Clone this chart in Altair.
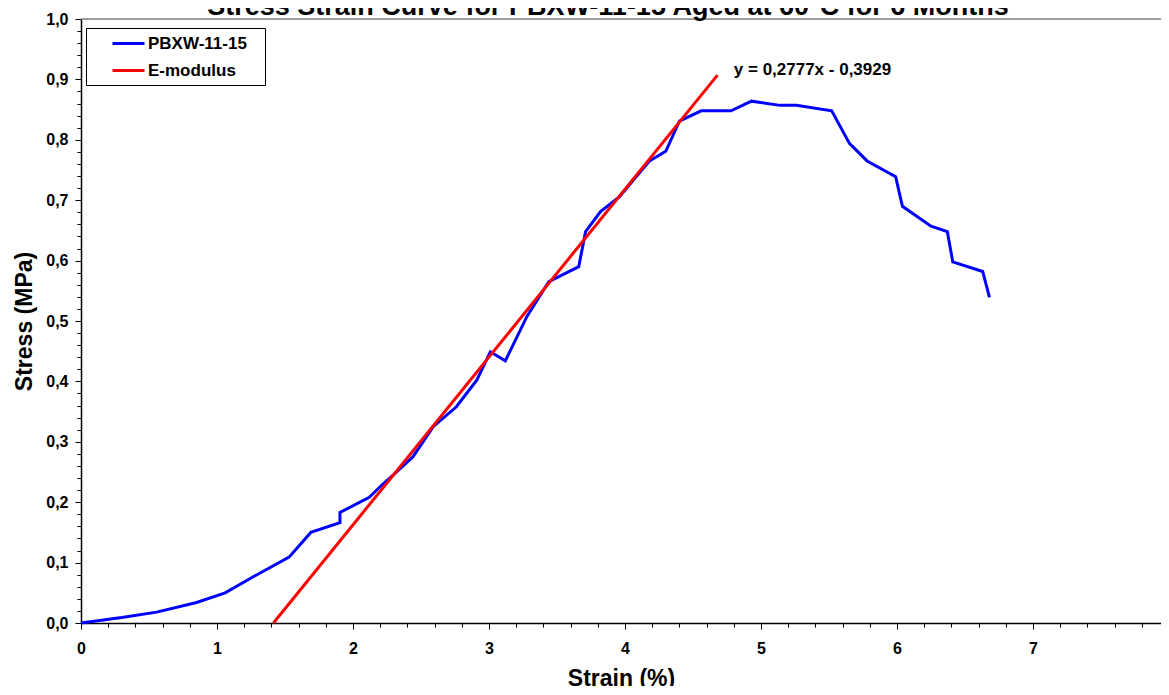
import altair as alt
import pandas as pd

# ---- data ----
strain = [0.0, 0.30, 0.556, 0.85, 1.06, 1.27, 1.53, 1.69, 1.904, 1.904, 2.12, 2.21, 2.32, 2.44,
          2.59, 2.76, 2.91, 3.01, 3.12, 3.28, 3.44, 3.66, 3.71, 3.82, 3.96, 4.06, 4.18, 4.30,
          4.40, 4.56, 4.78, 4.93, 5.14, 5.26, 5.52, 5.65, 5.78, 5.99, 6.04, 6.25, 6.37, 6.41,
          6.63, 6.68]
stress = [0.0, 0.009, 0.018, 0.034, 0.050, 0.077, 0.109, 0.150, 0.166, 0.183, 0.208, 0.228, 0.250, 0.275,
          0.325, 0.358, 0.402, 0.449, 0.434, 0.508, 0.565, 0.590, 0.648, 0.681, 0.706, 0.733, 0.765, 0.781,
          0.831, 0.848, 0.848, 0.864, 0.857, 0.857, 0.848, 0.794, 0.765, 0.739, 0.690, 0.657, 0.648, 0.598,
          0.582, 0.539]
fit_x = [1.415, 4.68]
fit_y = [0.0, 0.907]
series_names = ["PBXW-11-15", "E-modulus"]
series_colors = ["#0000FF", "#FF0000"]
equation_label = ["y = 0,2777x - 0,3929"]
equation_x = [4.80]
equation_y = [0.915]
frame_x = [0.0, 8.0]
frame_y = [1.0, 1.0]
x_ticks = [round(i * 0.2, 1) for i in range(41)]
y_ticks = [round(i * 0.02, 2) for i in range(51)]
title_text = ["Stress Strain Curve for PBXW-11-15 Aged at 60°C for 6 Months"]

FONT = "Liberation Sans"
PLOT_W, PLOT_H = 1080, 604
# the reference's x axis runs 0..8 over 1088 px; the window shows up to ~7.94
X_VISIBLE_MAX = 8 * PLOT_W / 1088

curve_df = pd.DataFrame({"strain": strain, "stress": stress,
                         "order": list(range(len(strain))), "series": series_names[0]})
fit_df = pd.DataFrame({"strain": fit_x, "stress": fit_y,
                       "order": list(range(len(fit_x))), "series": series_names[1]})
eq_df = pd.DataFrame({"strain": equation_x, "stress": equation_y, "label": equation_label})
frame_df = pd.DataFrame({"strain": frame_x, "stress": frame_y})
title_df = pd.DataFrame({"label": title_text})

x_scale = alt.Scale(domain=[0, X_VISIBLE_MAX], nice=False, zero=False)
y_scale = alt.Scale(domain=[0, 1], nice=False, zero=False)

x_major = "abs(datum.value - round(datum.value)) < 0.001"
y_major = "abs(datum.value * 10 - round(datum.value * 10)) < 0.001"

x_axis = alt.Axis(
    values=x_ticks,
    labelExpr=x_major + " ? format(datum.value, 'd') : ''",
    tickSize={"condition": {"test": x_major, "value": 6}, "value": 4},
    grid=False, domainColor="black", domainWidth=1.5, tickColor="black", tickWidth=1,
    labelFont=FONT, labelFontWeight="bold", labelFontSize=16, labelColor="black",
    labelPadding=11, labelFlush=False, labelOverlap=False,
    titleFont=FONT, titleFontWeight="bold", titleFontSize=23,
    titleColor="black", titleBaseline="alphabetic", titleY=62,
)
y_axis = alt.Axis(
    values=y_ticks,
    labelExpr=y_major + " ? replace(format(datum.value, '.1f'), '.', ',') : ''",
    tickSize={"condition": {"test": y_major, "value": 6}, "value": 4},
    grid=False, domainColor="black", domainWidth=1.5, tickColor="black", tickWidth=1,
    labelFont=FONT, labelFontWeight="bold", labelFontSize=16, labelColor="black",
    labelPadding=7, labelFlush=False, labelOverlap=False,
    titleFont=FONT, titleFontWeight="bold", titleFontSize=23,
    titleColor="black", titleBaseline="middle", titleX=-57, titleAngle=-90,
)

X = alt.X("strain:Q", scale=x_scale, axis=x_axis, title="Strain (%)")
Y = alt.Y("stress:Q", scale=y_scale, axis=y_axis, title="Stress (MPa)")

color_enc = alt.Color(
    "series:N",
    scale=alt.Scale(domain=series_names, range=series_colors),
    legend=alt.Legend(
        title=None, orient="none", legendX=5, legendY=9,
        fillColor="white", strokeColor="black", padding=6, rowPadding=9,
        symbolType="M-2,0H2", symbolStrokeWidth=3, symbolSize=256, symbolOffset=27,
        labelOffset=10, labelFont=FONT, labelFontWeight="bold", labelFontSize=17, labelColor="black",
        labelExpr="datum.label + '\u2800'",
    ),
)

frame = alt.Chart(frame_df).mark_line(color="#808080", strokeWidth=1.5).encode(x=X, y=Y)

curve = alt.Chart(curve_df).mark_line(strokeWidth=3).encode(
    x=X, y=Y, order="order:Q", color=color_enc,
)
fit = alt.Chart(fit_df).mark_line(strokeWidth=3).encode(
    x=X, y=Y, order="order:Q", color=color_enc,
)
eq = alt.Chart(eq_df).mark_text(
    align="left", baseline="middle", font=FONT, fontWeight="bold", fontSize=17, color="black"
).encode(x=X, y=Y, text="label:N")

title = alt.Chart(title_df).mark_text(
    align="center", baseline="alphabetic", font=FONT, fontWeight="bold", fontSize=27, color="black"
).encode(x=alt.value(PLOT_W / 2 - 13), y=alt.value(-4), text="label:N")

chart = alt.layer(frame, curve, fit, eq, title).properties(
    width=PLOT_W, height=PLOT_H,
    autosize=alt.AutoSizeParams(type="none"),
    padding={"left": 73, "top": 11, "right": 0, "bottom": 63},
).configure_view(stroke=None).configure_legend(strokeWidth=1).configure_axis(
    labelOverlap=False
).configure(background="white")

chart.save("out.html", embed_options={"renderer": "svg", "actions": False})
